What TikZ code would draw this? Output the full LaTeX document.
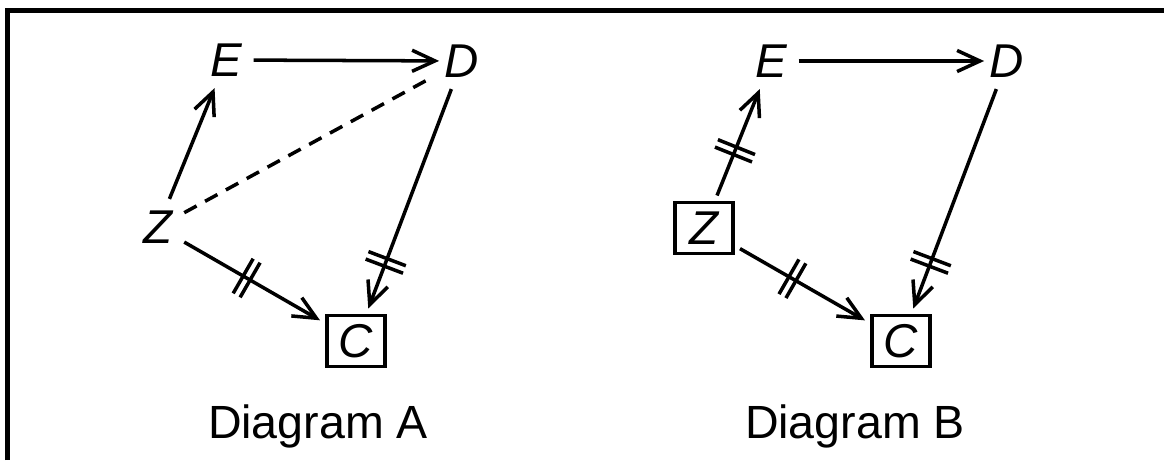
\documentclass[tikz,border=0pt]{standalone}
\usepackage{fontspec}
\setmainfont{Liberation Sans}
\usetikzlibrary{arrows.meta,decorations.markings}
\tikzset{
  var/.style={font=\fontsize{27}{32}\selectfont\itshape, inner sep=0.2cm},
  obs/.style={var, draw, line width=2pt, minimum width=1.16cm,
    minimum height=1.02cm, inner sep=0pt, outer sep=0.14cm},
  caption/.style={font=\fontsize{26.5}{32}\selectfont, anchor=base},
  cutmark/.style={postaction={decorate,decoration={markings,
    mark=at position #1 with {\draw[line width=2pt,-]
      (-0.08,-0.4)--(-0.08,0.4) (0.08,-0.4)--(0.08,0.4);}}}}
}
\begin{document}
\begin{tikzpicture}[>={Straight Barb[length=13pt,width=12pt]},
  line width=2pt]
  \useasboundingbox (0,0) rectangle (23.28,9.2);
  \draw[line width=2.4pt] (0.15,0)--(0.15,8.99)--(23.28,8.99);

  \node[var] (ea) at (4.52,8.00) {E};
  \node[var] (da) at (9.24,7.98) {D};
  \node[var] (za) at (3.16,4.66) {Z};
  \node[obs] (ca) at (7.12,2.38) {C};
  \node[caption] (capa) at (6.36,0.44) {Diagram A};
  \draw[->,shorten >=-0.12cm] (ea)--(da);
  \draw[->] (za)--(ea);
  \draw[dash pattern=on 8pt off 5.5pt] (za)--(da);
  \draw[->,cutmark=0.79] (da)--(ca);
  \draw[->,cutmark=0.46] (za)--(ca);

  \node[var] (eb) at (15.42,7.98) {E};
  \node[var] (db) at (20.14,7.98) {D};
  \node[obs] (zb) at (14.08,4.64) {Z};
  \node[obs] (cb) at (18.02,2.38) {C};
  \node[caption] (capb) at (17.10,0.44) {Diagram B};
  \draw[->,shorten >=-0.12cm] (eb)--(db);
  \draw[->,cutmark=0.42] (zb)--(eb);
  \draw[->,cutmark=0.79] (db)--(cb);
  \draw[->,cutmark=0.42] (zb)--(cb);
\end{tikzpicture}
\end{document}
